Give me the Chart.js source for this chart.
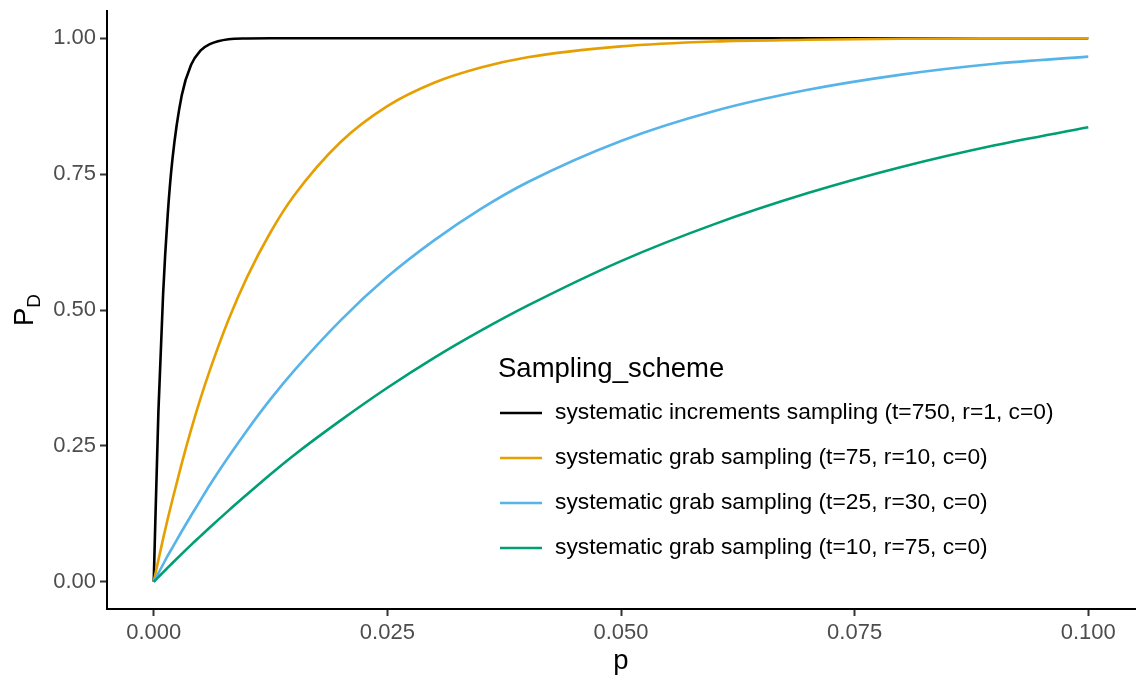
<!DOCTYPE html>
<html><head><meta charset="utf-8">
<script src="https://cdn.jsdelivr.net/npm/chart.js@4/dist/chart.umd.min.js"></script>
<style>html,body{margin:0;padding:0;background:#fff;}#wrap{width:1137px;height:677px;position:relative;}</style>
</head><body><div id="wrap"><canvas id="c" width="1137" height="677"></canvas></div>
<script>
// ---- data ----
const pValues = [0, 0.0005, 0.001, 0.0015, 0.002, 0.003, 0.004, 0.005, 0.006, 0.008, 0.01, 0.0125, 0.015, 0.02, 0.025, 0.03, 0.035, 0.04, 0.05, 0.06, 0.07, 0.08, 0.09, 0.1];
const incrementsT750 = [0, 0.313, 0.528, 0.676, 0.777, 0.895, 0.951, 0.977, 0.989, 0.998, 0.9995, 1.0, 1.0, 1.0, 1.0, 1.0, 1.0, 1.0, 1.0, 1.0, 1.0, 1.0, 1.0, 1.0];
const grabT75 = [0, 0.040, 0.079, 0.116, 0.151, 0.218, 0.280, 0.337, 0.389, 0.482, 0.561, 0.643, 0.710, 0.809, 0.875, 0.918, 0.946, 0.965, 0.985, 0.994, 0.997, 0.999, 0.9996, 0.9998];
const grabT25 = [0, 0.016, 0.032, 0.048, 0.063, 0.093, 0.122, 0.150, 0.178, 0.230, 0.279, 0.336, 0.388, 0.481, 0.561, 0.628, 0.686, 0.735, 0.811, 0.866, 0.905, 0.933, 0.953, 0.966];
const grabT10 = [0, 0.0087, 0.0174, 0.026, 0.0346, 0.0515, 0.068, 0.084, 0.100, 0.131, 0.161, 0.198, 0.233, 0.297, 0.357, 0.412, 0.462, 0.508, 0.590, 0.658, 0.715, 0.763, 0.803, 0.836];
const seriesLabels = [
  'systematic increments sampling (t=750, r=1, c=0)',
  'systematic grab sampling (t=75, r=10, c=0)',
  'systematic grab sampling (t=25, r=30, c=0)',
  'systematic grab sampling (t=10, r=75, c=0)'
];
const legendTitle = 'Sampling_scheme';
const xTitle = 'p';
const yTitleMain = 'P';
const yTitleSub = 'D';
const xTickValues = [0, 0.025, 0.05, 0.075, 0.1];
const xTickLabels = ['0.000', '0.025', '0.050', '0.075', '0.100'];
const yTickValues = [0, 0.25, 0.5, 0.75, 1];
const yTickLabels = ['0.00', '0.25', '0.50', '0.75', '1.00'];

// ---- styles ----
const seriesValues = [incrementsT750, grabT75, grabT25, grabT10];
const colors = ['#000000', '#E69F00', '#56B4E9', '#009E73'];
const FONT = '"Liberation Sans", Arial, Helvetica, sans-serif';

const datasets = seriesValues.map((vals, i) => ({
  label: seriesLabels[i],
  data: pValues.map((p, j) => ({x: p, y: vals[j]})),
  borderColor: colors[i],
  backgroundColor: colors[i],
  borderWidth: 2.6,
  pointRadius: 0,
  fill: false,
  cubicInterpolationMode: 'monotone'
})).reverse();

const overlay = {
  id: 'overlay',
  afterDraw(chart) {
    const ctx = chart.ctx;
    const ca = chart.chartArea;
    ctx.save();
    ctx.fillStyle = '#000';
    ctx.font = '27.5px ' + FONT;
    ctx.textAlign = 'center';
    ctx.textBaseline = 'alphabetic';
    ctx.fillText(xTitle, (ca.left + ca.right) / 2, 669);
    ctx.save();
    const cy = (ca.top + ca.bottom) / 2;
    ctx.translate(33, cy);
    ctx.rotate(-Math.PI / 2);
    ctx.font = '27.5px ' + FONT;
    const wP = ctx.measureText(yTitleMain).width;
    ctx.font = '19px ' + FONT;
    const wD = ctx.measureText(yTitleSub).width;
    const start = -(wP + wD) / 2;
    ctx.textAlign = 'left';
    ctx.font = '27.5px ' + FONT;
    ctx.fillText(yTitleMain, start, 0);
    ctx.font = '19px ' + FONT;
    ctx.fillText(yTitleSub, start + wP, 7);
    ctx.restore();
    ctx.textAlign = 'left';
    ctx.font = '27.5px ' + FONT;
    ctx.fillText(legendTitle, 498, 377);
    const rowY = [413, 458, 503, 548];
    ctx.font = '22.8px ' + FONT;
    seriesLabels.forEach((lab, i) => {
      ctx.strokeStyle = colors[i];
      ctx.lineWidth = 2.6;
      ctx.beginPath();
      ctx.moveTo(500, rowY[i]);
      ctx.lineTo(542, rowY[i]);
      ctx.stroke();
      ctx.fillStyle = '#000';
      ctx.textBaseline = 'middle';
      ctx.fillText(lab, 555, rowY[i]);
    });
    ctx.restore();
  }
};

new Chart(document.getElementById('c'), {
  type: 'line',
  data: {datasets},
  options: {
    responsive: false,
    animation: false,
    devicePixelRatio: 1,
    layout: {padding: {top: 11, right: 2, left: 0, bottom: 0}},
    plugins: {legend: {display: false}, tooltip: {enabled: false}},
    scales: {
      x: {
        type: 'linear', min: -0.005, max: 0.105,
        afterBuildTicks: s => { s.ticks = xTickValues.map(v => ({value: v})); },
        afterFit: s => { s.height = 68; s.paddingLeft = 0; s.paddingRight = 0; },
        ticks: {
          autoSkip: false, maxRotation: 0, minRotation: 0, padding: 4,
          color: '#4D4D4D', font: {family: FONT, size: 22},
          callback: (v) => xTickLabels[xTickValues.indexOf(v)]
        },
        grid: {drawOnChartArea: false, drawTicks: true, tickLength: 7, tickColor: '#333333', tickWidth: 2},
        border: {display: true, color: '#000000', width: 2}
      },
      y: {
        type: 'linear', min: -0.05, max: 1.05,
        afterBuildTicks: s => { s.ticks = yTickValues.map(v => ({value: v})); },
        afterFit: s => { s.width = 107; s.paddingTop = 0; s.paddingBottom = 0; },
        ticks: {
          autoSkip: false, padding: 4,
          color: '#4D4D4D', font: {family: FONT, size: 22},
          callback: (v) => yTickLabels[yTickValues.indexOf(v)]
        },
        grid: {drawOnChartArea: false, drawTicks: true, tickLength: 7, tickColor: '#333333', tickWidth: 2},
        border: {display: true, color: '#000000', width: 2}
      }
    }
  },
  plugins: [overlay]
});
</script></body></html>
